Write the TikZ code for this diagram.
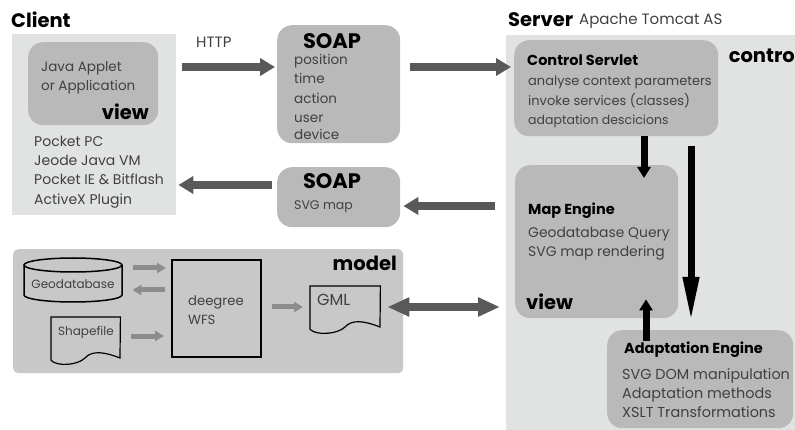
\documentclass[tikz,border=0pt]{standalone}
\usepackage{fontspec}
\setmainfont{Poppins}
\usetikzlibrary{arrows.meta}

\definecolor{PanelLight}{HTML}{E1E3E3}
\definecolor{PanelMid}{HTML}{C8C8C8}
\definecolor{BoxGray}{HTML}{B9B9B9}
\definecolor{LabelGray}{HTML}{404040}
\definecolor{ArrowDark}{HTML}{595959}
\definecolor{ArrowSoft}{HTML}{8C8C8C}

\tikzset{
  panel/.style={inner sep=0pt, anchor=north west},
  roundbox/.style={panel, fill=BoxGray, rounded corners=15pt},
  body/.style={inner sep=0pt, anchor=west, align=left, text=LabelGray, font=\fontsize{#1}{19.3}\selectfont},
  body/.default=13.5,
  title/.style={inner sep=0pt, anchor=west, font=\fontsize{19.5}{22}\selectfont\bfseries},
  subtitle/.style={inner sep=0pt, anchor=west, font=\fontsize{14.5}{17}\selectfont\bfseries},
  docframe/.style={inner sep=0pt, anchor=north west},
  docline/.style={black, line width=1.2pt},
  bigarrow/.style={line width=8pt, ArrowDark, -{Triangle[length=15pt,width=17pt]}},
  softarrow/.style={line width=5pt, ArrowSoft, -{Triangle[length=9pt,width=10pt]}},
  blackarrow/.style={line width=7pt, black, -{Triangle[length=11pt,width=13pt]}},
}

\begin{document}
\begin{tikzpicture}[x=1pt, y=-1pt]
\useasboundingbox (0,0) rectangle (795,430);

% _____ Client
\node[panel, fill=PanelLight, minimum width=164pt, minimum height=181pt] (clientpanel) at (12,34) {};
\node[roundbox, minimum width=130pt, minimum height=83pt] (appletbox) at (28,42) {};
\node[title] (clienttitle) at (11,20) {Client};
\node[body] (applettext) at (41,78) {Java Applet\\or Application};
\node[title, anchor=east] (appletview) at (149,112) {view};
\node[body=14] (pocketlist) at (34,172) {Pocket PC\\Jeode Java VM\\Pocket IE \& Bitflash\\ActiveX Plugin};

% _____ SOAP messages
\node[roundbox, minimum width=123pt, minimum height=118pt] (soapreq) at (277,25) {};
\node[title, anchor=center, font=\fontsize{21}{24}\selectfont\bfseries] (soapreqtitle) at (332,41) {SOAP};
\node[body] (soapreqtext) at (294,97) {position\\time\\action\\user\\[-2pt]device};
\node[roundbox, minimum width=123pt, minimum height=60pt] (soapresp) at (277,167) {};
\node[title, anchor=center, font=\fontsize{21}{24}\selectfont\bfseries] (soaprespresp) at (332,181) {SOAP};
\node[body=12.5] (soaprespext) at (294,207) {SVG map};
\node[body=15] (httplabel) at (196,42) {HTTP};

% _____ Server
\node[panel, fill=PanelLight, minimum width=289pt, minimum height=395pt] (serverpanel) at (506,35) {};
\node[title] (servertitle) at (508,20) {Server};
\node[body=15] (servertext) at (579,21) {Apache Tomcat AS};
\node[title, anchor=east] (controltitle) at (795,56) {contro};

\node[roundbox, minimum width=204pt, minimum height=96pt] (servletbox) at (514,40) {};
\node[subtitle] (servlettitle) at (527,60) {Control Servlet};
\node[body=13] (servlettext) at (528,92) {analyse context parameters\\invoke services (classes)};
\node[body=12.5] (servletsmall) at (528,121) {adaptation descicions};

\node[roundbox, minimum width=163pt, minimum height=153pt] (mapbox) at (515,165) {};
\node[subtitle] (maptitle) at (528,211) {Map Engine};
\node[body=13.9] (maptext) at (528,244) {Geodatabase Query\\SVG map rendering};
\node[title] (mapview) at (526,302) {view};

\node[roundbox, minimum width=186pt, minimum height=98pt] (adaptbox) at (607,330) {};
\node[subtitle] (adapttitle) at (624,350) {Adaptation Engine};
\node[body=14.4] (adapttext) at (622,393) {SVG DOM manipulation\\Adaptation methods\\XSLT Transformations};

% _____ Model
\node[panel, fill=PanelMid, rounded corners=5pt, minimum width=390pt, minimum height=124pt] (modelpanel) at (13,249) {};
\node[title, anchor=east] (modeltitle) at (397,263) {model};

\node[docframe, minimum width=98pt, minimum height=44pt] (geodatabase) at (24,258) {};
\draw[docline, line width=1.5pt] (24,265) -- (24,295) arc[start angle=180, end angle=360, x radius=49pt, y radius=7pt] -- (122,265);
\draw[docline, line width=1.5pt] (73,265) ellipse [x radius=49pt, y radius=7pt];
\node[body=12, anchor=center] (geotext) at (73,284) {Geodatabase};

\node[panel, draw=black, line width=2pt, minimum width=89pt, minimum height=97pt] (wfsbox) at (171,259) {};
\node[body=13.2] (wfstext) at (188,310) {deegree\\WFS};

\node[docframe, minimum width=69pt, minimum height=43pt] (shapefile) at (51,317) {};
\draw[docline] (shapefile.south west) -- (shapefile.north west) -- (shapefile.north east) -- (120,358)
    .. controls (105,352) and (92,350) .. (85,358)
    .. controls (78,365) and (58,367) .. (shapefile.south west);
\node[body=12, anchor=center] (shapetext) at (86,332) {Shapefile};

\node[docframe, minimum width=70pt, minimum height=43pt] (gmldoc) at (310,286) {};
\draw[docline] (gmldoc.south west) -- (gmldoc.north west) -- (gmldoc.north east) -- (380,327)
    .. controls (365,321) and (352,319) .. (345,327)
    .. controls (338,334) and (317,336) .. (gmldoc.south west);
\node[body=16] (gmltext) at (317,300) {GML};

% _____ Levels of the arrows
\coordinate (LevelHttp) at (0,67);
\coordinate (LevelClient) at (0,185);
\coordinate (LevelMap) at (0,206);
\coordinate (LevelGml) at (0,307);
\coordinate (LevelGeoIn) at (0,268);
\coordinate (LevelGeoOut) at (0,290);
\coordinate (LevelShape) at (0,336);
\coordinate (ColServlet) at (644,0);
\coordinate (ColEngine) at (646,0);
\coordinate (AdaptStart) at (691,146);
\coordinate (AdaptEnd) at (691,322);

% _____ Dark arrows
\draw[bigarrow, shorten <=6pt, shorten >=2pt] (clientpanel.east |- LevelHttp) -- (soapreq.west |- LevelHttp);
\draw[bigarrow, shorten <=10pt, shorten >=3pt] (soapreq.east |- LevelHttp) -- (servletbox.west |- LevelHttp);
\draw[bigarrow, shorten <=5pt, shorten >=2pt] (soapresp.west |- LevelClient) -- (clientpanel.east |- LevelClient);
\draw[bigarrow, shorten <=11pt, shorten >=3pt] (serverpanel.west |- LevelMap) -- (soapresp.east |- LevelMap);
\draw[bigarrow, <->, >={Triangle[length=22pt,width=18pt]}, shorten <=-16pt, shorten >=6pt] (modelpanel.east |- LevelGml) -- (serverpanel.west |- LevelGml);

% _____ Soft arrows
\draw[softarrow, shorten <=11pt, shorten >=5pt] (geodatabase.east |- LevelGeoIn) -- (wfsbox.west |- LevelGeoIn);
\draw[softarrow, shorten <=6pt, shorten >=10pt] (wfsbox.west |- LevelGeoOut) -- (geodatabase.east |- LevelGeoOut);
\draw[softarrow, shorten <=11pt, shorten >=7pt] (shapefile.east |- LevelShape) -- (wfsbox.west |- LevelShape);
\draw[softarrow, shorten <=10pt, shorten >=7pt] (wfsbox.east |- LevelGml) -- (gmldoc.west |- LevelGml);

% _____ Black arrows
\draw[blackarrow, shorten >=-13pt] (ColServlet |- servletbox.south) -- (ColServlet |- mapbox.north);
\draw[blackarrow, shorten >=-19pt] (ColEngine |- adaptbox.north) ++(0,11) -- (ColEngine |- mapbox.south);
\draw[blackarrow, -{Triangle[length=45pt,width=15pt]}] (AdaptStart) -- (AdaptEnd);

\end{tikzpicture}
\end{document}
